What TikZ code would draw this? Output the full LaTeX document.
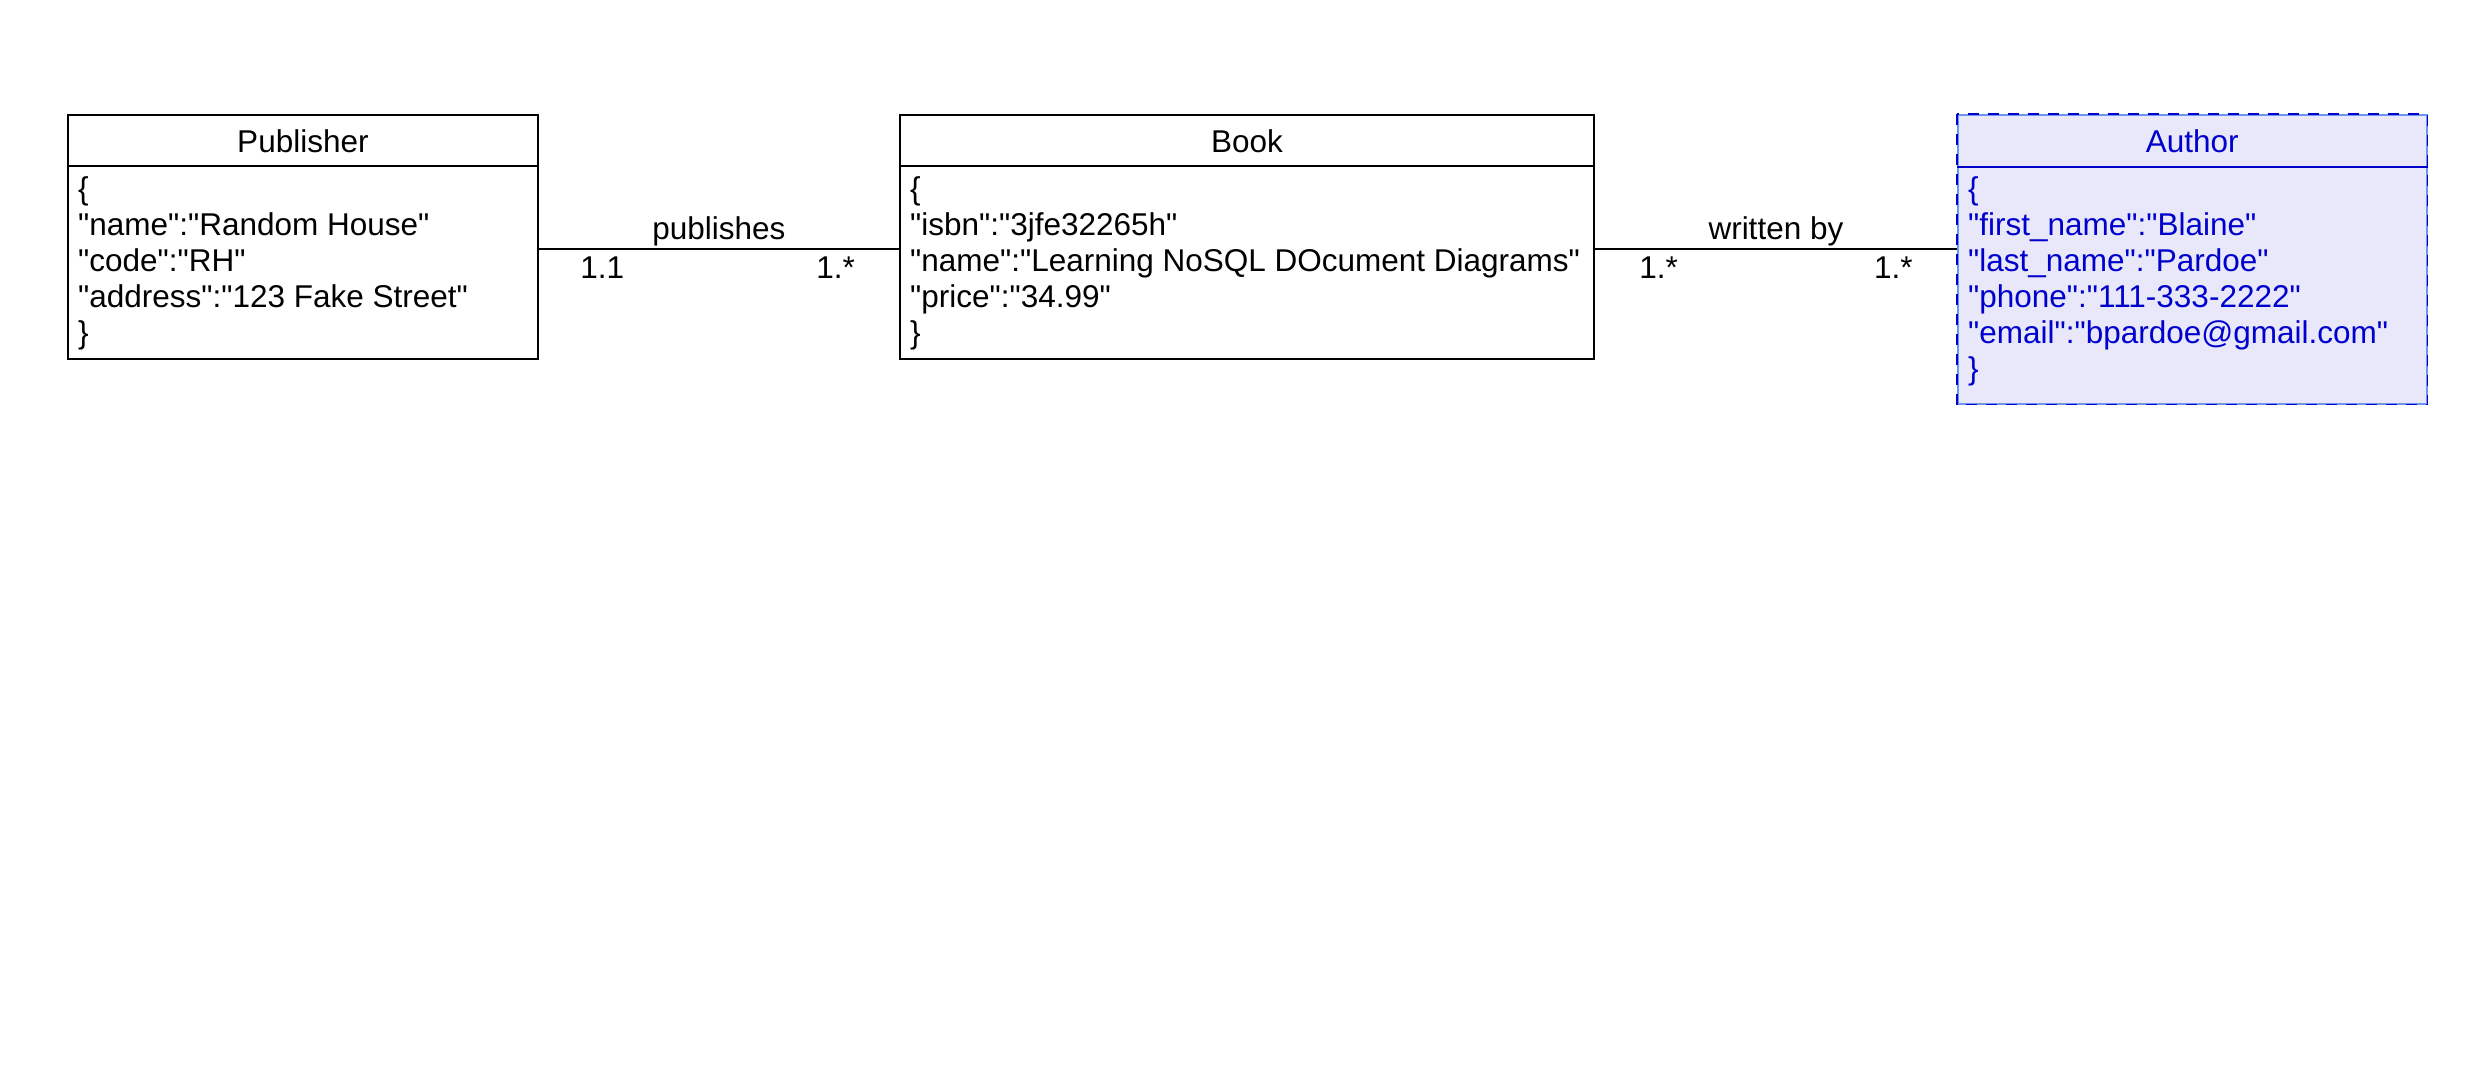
\documentclass[tikz,border=0pt]{standalone}
\usepackage{fontspec}
\setmainfont{Liberation Sans}[Ligatures=TeXOff]
\definecolor{authblue}{RGB}{0,0,204}
\definecolor{authfill}{RGB}{232,232,250}
\definecolor{authedge}{RGB}{110,150,240}
\newcommand{\txtfont}{\fontsize{31.5}{36}\selectfont}
\begin{document}
\begin{tikzpicture}[x=1pt,y=-1pt,
  classbox/.style={draw=black, line width=1.8pt, anchor=north west, inner sep=0pt, rectangle},
  authbox/.style={draw=authedge, fill=authfill, line width=1.6pt, anchor=north west, inner sep=0pt, rectangle},
  headtxt/.style={font=\txtfont, inner sep=0pt},
  bodytxt/.style={font=\txtfont, align=left, anchor=north west, inner sep=0pt},
  rel/.style={draw=black, line width=1.8pt},
  relname/.style={font=\txtfont, above, inner sep=2pt},
  mult/.style={font=\txtfont, below, inner sep=7pt}]
\useasboundingbox[fill=white] (0,0) rectangle (2476,1083);

% boxes
\node[classbox, minimum width=470pt, minimum height=244pt] (pub) at (67,114) {};
\node[classbox, minimum width=694pt, minimum height=244pt] (book) at (899,114) {};
\node[authbox, minimum width=469pt, minimum height=289pt] (auth) at (1957,114) {};
\draw[authblue, line width=1.6pt, dash pattern=on 11pt off 9pt] (auth.north west) rectangle (auth.south east);

% dividers
\draw[line width=1.8pt] ([yshift=-52pt]pub.north west) -- ([yshift=-52pt]pub.north east);
\draw[line width=1.8pt] ([yshift=-52pt]book.north west) -- ([yshift=-52pt]book.north east);
\draw[authblue, line width=1.8pt] ([yshift=-53pt]auth.north west) -- ([yshift=-53pt]auth.north east);

% headers
\node[headtxt] (pubh) at ([yshift=-27pt]pub.north) {Publisher};
\node[headtxt] (bookh) at ([yshift=-27pt]book.north) {Book};
\node[headtxt, text=authblue] (authh) at ([yshift=-27pt]auth.north) {Author};

% bodies
\node[bodytxt] (pubb) at ([xshift=11pt,yshift=-60.5pt]pub.north west)
  {\strut\{\\"name":"Random House"\\"code":"RH"\\"address":"123 Fake Street"\\\}};
\node[bodytxt] (bookb) at ([xshift=11pt,yshift=-60.5pt]book.north west)
  {\strut\{\\"isbn":"3jfe32265h"\\"name":"Learning NoSQL DOcument Diagrams"\\"price":"34.99"\\\}};
\node[bodytxt, text=authblue] (authb) at ([xshift=11pt,yshift=-60.5pt]auth.north west)
  {\strut\{\\"first\_name":"Blaine"\\"last\_name":"Pardoe"\\"phone":"111-333-2222"\\"email":"bpardoe@gmail.com"\\\}};

% connectors
\coordinate (pubr) at ([yshift=-12pt]pub.east);
\coordinate (bookl) at ([yshift=-12pt]book.west);
\coordinate (bookr) at ([yshift=-12pt]book.east);
\draw[rel] (pubr) -- node[relname]{publishes} node[mult,pos=0.176]{1.1} node[mult,pos=0.824]{1.*} (bookl);
\draw[rel] (bookr) -- node[relname]{written by} node[mult,pos=0.176]{1.*} node[mult,pos=0.824]{1.*} (bookr -| auth.west);
\end{tikzpicture}
\end{document}
